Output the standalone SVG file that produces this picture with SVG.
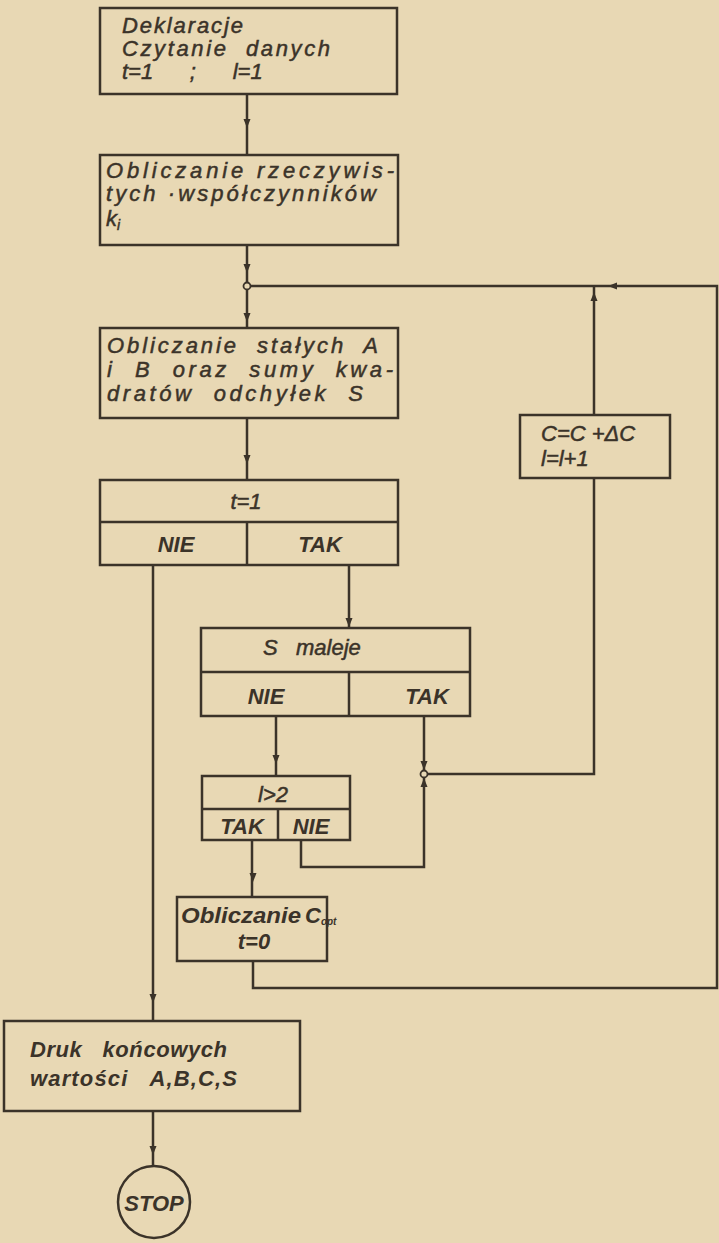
<svg xmlns="http://www.w3.org/2000/svg" width="719" height="1243" viewBox="0 0 719 1243">
<style>
.bg{fill:#e8d8b4}
.box{fill:none;stroke:#3b3329;stroke-width:2.5}
.ln{fill:none;stroke:#3b3329;stroke-width:2.5}
.jn{fill:#e8d8b4;stroke:#3b3329;stroke-width:1.8}
.ah{fill:#3b3329}
text{font-family:"Liberation Sans","DejaVu Sans",sans-serif;font-style:italic;fill:#3b3329;stroke:#3b3329;stroke-width:0.5;font-size:22px;white-space:pre}
.b{font-weight:bold;stroke-width:0}
.c{text-anchor:middle}
</style>
<defs>
<path id="ad" d="M-3.5,-9 L3.5,-9 L0,0 Z"/>
</defs>
<rect class="bg" x="0" y="0" width="719" height="1243"/>

<g id="connectors">
<path class="ln" d="M247,94 V155"/>
<path class="ln" d="M247,245 V328"/>
<path class="ln" d="M250,286 H717 V988 H253 V961"/>
<path class="ln" d="M594,286 V415"/>
<path class="ln" d="M594,478 V774 H427"/>
<path class="ln" d="M247,418 V480"/>
<path class="ln" d="M349,565 V628"/>
<path class="ln" d="M153,565 V1021"/>
<path class="ln" d="M276,716 V776"/>
<path class="ln" d="M424,716 V867 H301 V840"/>
<path class="ln" d="M252,840 V897"/>
<path class="ln" d="M153,1111 V1166"/>
<circle class="jn" cx="247" cy="286" r="3.5"/>
<circle class="jn" cx="424" cy="774" r="3.5"/>
<use href="#ad" class="ah" transform="translate(247,128)"/>
<use href="#ad" class="ah" transform="translate(247,273)"/>
<use href="#ad" class="ah" transform="translate(247,322)"/>
<use href="#ad" class="ah" transform="translate(247,464)"/>
<use href="#ad" class="ah" transform="translate(349,627)"/>
<use href="#ad" class="ah" transform="translate(276,764)"/>
<use href="#ad" class="ah" transform="translate(424,770)"/>
<use href="#ad" class="ah" transform="translate(424,778) rotate(180)"/>
<use href="#ad" class="ah" transform="translate(594,292) rotate(180)"/>
<use href="#ad" class="ah" transform="translate(608,286) rotate(90)"/>
<use href="#ad" class="ah" transform="translate(253,882)"/>
<use href="#ad" class="ah" transform="translate(153,1003)"/>
<use href="#ad" class="ah" transform="translate(153,1155)"/>
</g>

<g id="n1">
<rect class="box" x="100" y="8" width="297" height="86"/>
<text x="122" y="33" textLength="121" lengthAdjust="spacing">Deklaracje</text>
<text x="122" y="56" textLength="208" lengthAdjust="spacing">Czytanie  danych</text>
<text x="122" y="79">t=1      ;      l=1</text>
</g>

<g id="n2">
<rect class="box" x="100" y="155" width="298" height="90"/>
<text x="106" y="178" textLength="288" lengthAdjust="spacing">Obliczanie rzeczywis-</text>
<text x="106" y="201" textLength="270" lengthAdjust="spacing">tych ·współczynników</text>
<text x="106" y="226">k<tspan font-size="14" dy="4">i</tspan></text>
</g>

<g id="n3">
<rect class="box" x="100" y="328" width="298" height="90"/>
<text x="107" y="353" textLength="271" lengthAdjust="spacing">Obliczanie  stałych  A</text>
<text x="107" y="377" textLength="286" lengthAdjust="spacing">i  B  oraz  sumy  kwa-</text>
<text x="107" y="401" textLength="256" lengthAdjust="spacing">dratów  odchyłek  S</text>
</g>

<g id="n4">
<rect class="box" x="100" y="480" width="298" height="85"/>
<path class="ln" d="M100,522 H398 M247,522 V565"/>
<text class="c" x="246" y="509">t=1</text>
<text class="c b" x="176" y="552">NIE</text>
<text class="c b" x="320" y="552">TAK</text>
</g>

<g id="n5">
<rect class="box" x="520" y="415" width="150" height="63"/>
<text x="541" y="441">C=C +ΔC</text>
<text x="541" y="466">l=l+1</text>
</g>

<g id="n6">
<rect class="box" x="201" y="628" width="269" height="88"/>
<path class="ln" d="M201,672 H470 M349,672 V716"/>
<text x="263" y="655">S   maleje</text>
<text class="c b" x="266" y="704">NIE</text>
<text class="c b" x="427" y="704">TAK</text>
</g>

<g id="n7">
<rect class="box" x="202" y="776" width="148" height="64"/>
<path class="ln" d="M202,809 H350 M278,809 V840"/>
<text class="c" x="273" y="802">l&gt;2</text>
<text class="c b" x="242" y="834" font-size="19">TAK</text>
<text class="c b" x="311" y="834" font-size="19">NIE</text>
</g>

<g id="n8">
<rect class="box" x="177" y="897" width="150" height="64"/>
<text class="b" x="181" y="923" font-size="18" textLength="120" lengthAdjust="spacingAndGlyphs">Obliczanie</text>
<text class="b" x="305" y="923" font-size="18">C<tspan font-size="10" dy="2">opt</tspan></text>
<text class="c b" x="254" y="949">t=0</text>
</g>

<g id="n9">
<rect class="box" x="4" y="1021" width="296" height="90"/>
<text class="b" x="30" y="1057" textLength="197" lengthAdjust="spacing">Druk   końcowych</text>
<text class="b" x="30" y="1086" textLength="207" lengthAdjust="spacing">wartości   A,B,C,S</text>
</g>

<g id="n10">
<circle class="box" cx="154" cy="1202" r="36"/>
<text class="c b" x="154" y="1211" font-size="19">STOP</text>
</g>
</svg>
